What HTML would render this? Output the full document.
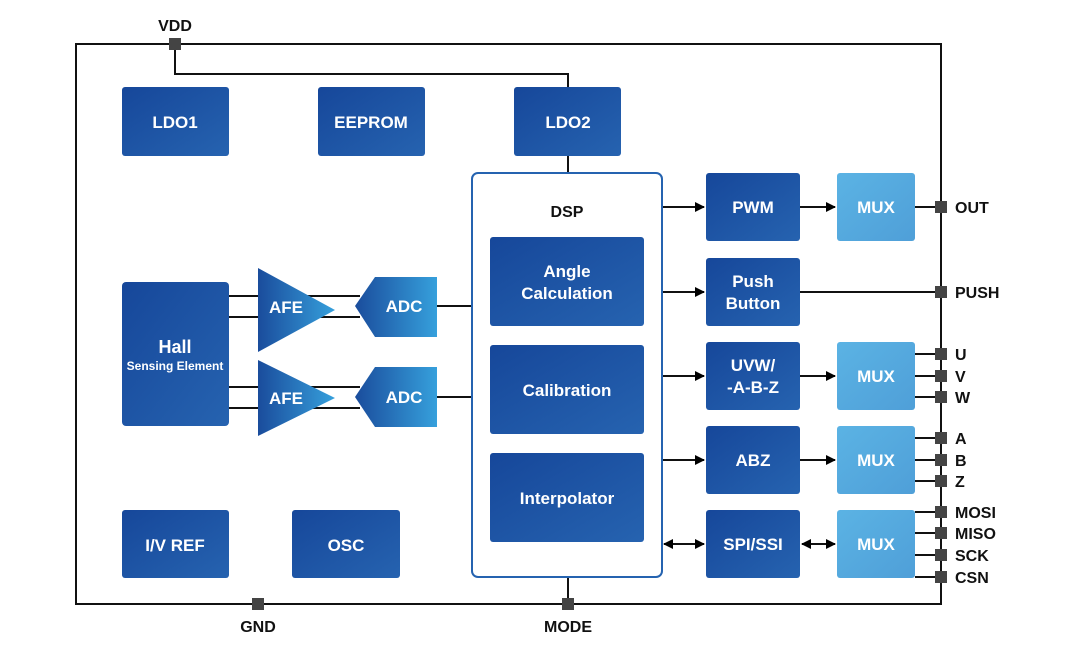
<!DOCTYPE html><html><head><style>body{margin:0;background:#fff}svg{display:block}text{font-family:"Liberation Sans",sans-serif;font-weight:bold}</style></head><body>
<svg width="1080" height="661" viewBox="0 0 1080 661">
<defs>
<linearGradient id="d" x1="0" y1="0" x2="1" y2="1"><stop offset="0" stop-color="#16479a"/><stop offset="1" stop-color="#2663b0"/></linearGradient>
<linearGradient id="l" x1="0" y1="0" x2="1" y2="1"><stop offset="0" stop-color="#5bb3e4"/><stop offset="1" stop-color="#4f9fd8"/></linearGradient>
<linearGradient id="t" x1="0" y1="0" x2="1" y2="0"><stop offset="0" stop-color="#1a4c9c"/><stop offset="1" stop-color="#36a0dc"/></linearGradient>
<marker id="a" markerWidth="10" markerHeight="10" refX="9" refY="5" orient="auto" markerUnits="userSpaceOnUse"><path d="M0,0L10,5L0,10z" fill="#000"/></marker>
<marker id="b" markerWidth="10" markerHeight="10" refX="1" refY="5" orient="auto" markerUnits="userSpaceOnUse"><path d="M10,0L0,5L10,10z" fill="#000"/></marker>
</defs>
<g stroke="#111" stroke-width="2" fill="none">
<rect x="76" y="44" width="865" height="560"/>
<path d="M175 44V74H568V87M568 156V173M568 577V604"/>
<path d="M229 296H360M229 317H360M229 387H360M229 408H360M437 306H472M437 397H472"/>
<path d="M662 207H704" marker-end="url(#a)"/><path d="M800 207H835" marker-end="url(#a)"/>
<path d="M662 292H704" marker-end="url(#a)"/><path d="M800 292H941"/>
<path d="M662 376H704" marker-end="url(#a)"/><path d="M800 376H835" marker-end="url(#a)"/>
<path d="M662 460H704" marker-end="url(#a)"/><path d="M800 460H835" marker-end="url(#a)"/>
<path d="M664 544H704" marker-start="url(#b)" marker-end="url(#a)"/><path d="M802 544H835" marker-start="url(#b)" marker-end="url(#a)"/>
<path d="M915 207H941M915 354H941M915 376H941M915 397H941M915 438H941M915 460H941M915 481H941M915 512H941M915 533H941M915 555H941M915 577H941"/>
</g>
<g fill="url(#d)">
<rect x="122" y="87" width="107" height="69" rx="3"/><rect x="318" y="87" width="107" height="69" rx="3"/><rect x="514" y="87" width="107" height="69" rx="3"/>
<rect x="122" y="282" width="107" height="144" rx="4"/>
<rect x="122" y="510" width="107" height="68" rx="3"/><rect x="292" y="510" width="108" height="68" rx="3"/>
</g>
<rect x="472" y="173" width="190" height="404" rx="6" fill="#fff" stroke="#2563b0" stroke-width="2"/>
<g fill="url(#d)">
<rect x="490" y="237" width="154" height="89" rx="3"/><rect x="490" y="345" width="154" height="89" rx="3"/><rect x="490" y="453" width="154" height="89" rx="3"/>
<rect x="706" y="173" width="94" height="68" rx="3"/><rect x="706" y="258" width="94" height="68" rx="3"/><rect x="706" y="342" width="94" height="68" rx="3"/><rect x="706" y="426" width="94" height="68" rx="3"/><rect x="706" y="510" width="94" height="68" rx="3"/>
</g>
<g fill="url(#l)"><rect x="837" y="173" width="78" height="68" rx="3"/><rect x="837" y="342" width="78" height="68" rx="3"/><rect x="837" y="426" width="78" height="68" rx="3"/><rect x="837" y="510" width="78" height="68" rx="3"/></g>
<g fill="url(#t)">
<path d="M258 268L335 310L258 352z"/><path d="M258 360L335 398L258 436z"/>
<path d="M355 306L375 277H437V337H375z"/><path d="M355 397L375 367H437V427H375z"/>
</g>
<g fill="#444">
<rect x="169" y="38" width="12" height="12"/><rect x="252" y="598" width="12" height="12"/><rect x="562" y="598" width="12" height="12"/>
<rect x="935" y="201" width="12" height="12"/><rect x="935" y="286" width="12" height="12"/>
<rect x="935" y="348" width="12" height="12"/><rect x="935" y="370" width="12" height="12"/><rect x="935" y="391" width="12" height="12"/>
<rect x="935" y="432" width="12" height="12"/><rect x="935" y="454" width="12" height="12"/><rect x="935" y="475" width="12" height="12"/>
<rect x="935" y="506" width="12" height="12"/><rect x="935" y="527" width="12" height="12"/><rect x="935" y="549" width="12" height="12"/><rect x="935" y="571" width="12" height="12"/>
</g>
<g fill="#fff" font-size="17" text-anchor="middle">
<text x="175" y="128">LDO1</text><text x="371" y="128">EEPROM</text><text x="568" y="128">LDO2</text>
<text x="175" y="353" font-size="18">Hall</text><text x="175" y="370" font-size="12" font-weight="normal">Sensing Element</text>
<text x="286" y="313">AFE</text><text x="286" y="404">AFE</text><text x="404" y="312">ADC</text><text x="404" y="403">ADC</text>
<text x="175" y="551">I/V REF</text><text x="346" y="551">OSC</text>
<text x="567" y="277">Angle</text><text x="567" y="299">Calculation</text><text x="567" y="396">Calibration</text><text x="567" y="504">Interpolator</text>
<text x="753" y="213">PWM</text><text x="753" y="287">Push</text><text x="753" y="309">Button</text><text x="753" y="371">UVW/</text><text x="753" y="393">-A-B-Z</text><text x="753" y="466">ABZ</text><text x="753" y="550">SPI/SSI</text>
<text x="876" y="213">MUX</text><text x="876" y="382">MUX</text><text x="876" y="466">MUX</text><text x="876" y="550">MUX</text>
</g>
<g fill="#111" font-size="16">
<text x="567" y="217" text-anchor="middle">DSP</text>
<text x="175" y="31" text-anchor="middle">VDD</text><text x="258" y="632" text-anchor="middle">GND</text><text x="568" y="632" text-anchor="middle">MODE</text>
<text x="955" y="213">OUT</text><text x="955" y="298">PUSH</text><text x="955" y="360">U</text><text x="955" y="382">V</text><text x="955" y="403">W</text><text x="955" y="444">A</text><text x="955" y="466">B</text><text x="955" y="487">Z</text><text x="955" y="518">MOSI</text><text x="955" y="539">MISO</text><text x="955" y="561">SCK</text><text x="955" y="583">CSN</text>
</g>
</svg></body></html>
